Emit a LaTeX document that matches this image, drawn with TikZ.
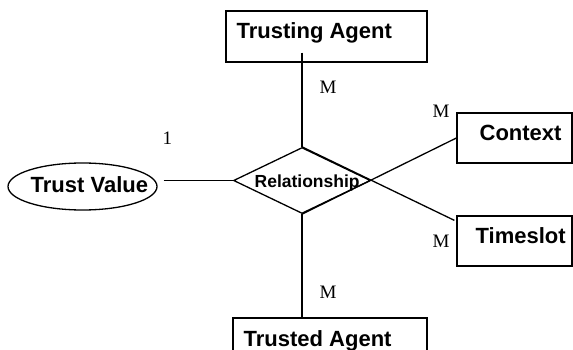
\documentclass[tikz,border=0pt]{standalone}
\usepackage{fontspec}
\setmainfont{Liberation Serif}
\newfontfamily\headfont{Liberation Sans}[BoldFont={Liberation Sans Bold}]
\usetikzlibrary{shapes.geometric}
\begin{document}
\begin{tikzpicture}[x=1pt,y=-1pt,
  line width=1.3pt,
  entity/.style={draw, rectangle, inner sep=0pt},
  attrib/.style={draw, ellipse, inner sep=0pt},
  relation/.style={draw, diamond, inner sep=0pt},
  heading/.style={inner sep=0pt, font=\headfont\bfseries\fontsize{22}{24}\selectfont},
  relheading/.style={inner sep=0pt, font=\headfont\bfseries\fontsize{17.5}{20}\selectfont},
  card/.style={inner sep=0pt, font=\fontsize{19}{22}\selectfont},
  link/.style={draw}]
\useasboundingbox (0,0) rectangle (573,350);
\clip (0,0) rectangle (573,350);

% entities
\node[entity, minimum width=201pt, minimum height=51pt] (trusting) at (326.5,36.5) {};
\node[heading, anchor=base west] (trustingT) at (236,39) {Trusting Agent};

\node[entity, minimum width=115pt, minimum height=50pt] (context) at (514.5,138) {};
\node[heading, anchor=base west] (contextT) at (479,141) {Context};

\node[entity, minimum width=115pt, minimum height=50pt] (timeslot) at (514.5,241) {};
\node[heading, anchor=base west] (timeslotT) at (475,243) {Timeslot};

\node[entity, minimum width=194pt, minimum height=54pt] (trusted) at (330,345) {};
\node[heading, anchor=base west] (trustedT) at (243,346) {Trusted Agent};

% attribute
\node[attrib, minimum width=149pt, minimum height=47pt] (value) at (82.5,186.5) {};
\node[heading, anchor=base west] (valueT) at (30,192) {Trust Value};

% relationship
\node[relation, minimum width=137pt, minimum height=66pt] (rel) at (302,180.5) {};
\node[relheading, anchor=base west] (relT) at (254,187) {Relationship};

% connectors
\draw[link] ([yshift=10pt]rel.north |- trusting.south) -- (rel.north);
\draw[link] (rel.south) -- (rel.south |- trusted.north);
\draw[link] ([xshift=6pt]value.east |- rel.west) -- (rel.west);
\draw[link] (rel.north) -- ([xshift=-2pt,yshift=-5pt]timeslot.north west);
\draw[link] (rel.south) -- (context.west);

% cardinalities
\node[card, anchor=base west] (cTop) at (319,94) {M};
\node[card, anchor=base west] (cCtx) at (432,118) {M};
\node[card, anchor=base west] (cTs) at (432,247) {M};
\node[card, anchor=base west] (cBot) at (319,298) {M};
\node[card, anchor=base west] (cVal) at (162,145) {1};
\end{tikzpicture}
\end{document}
